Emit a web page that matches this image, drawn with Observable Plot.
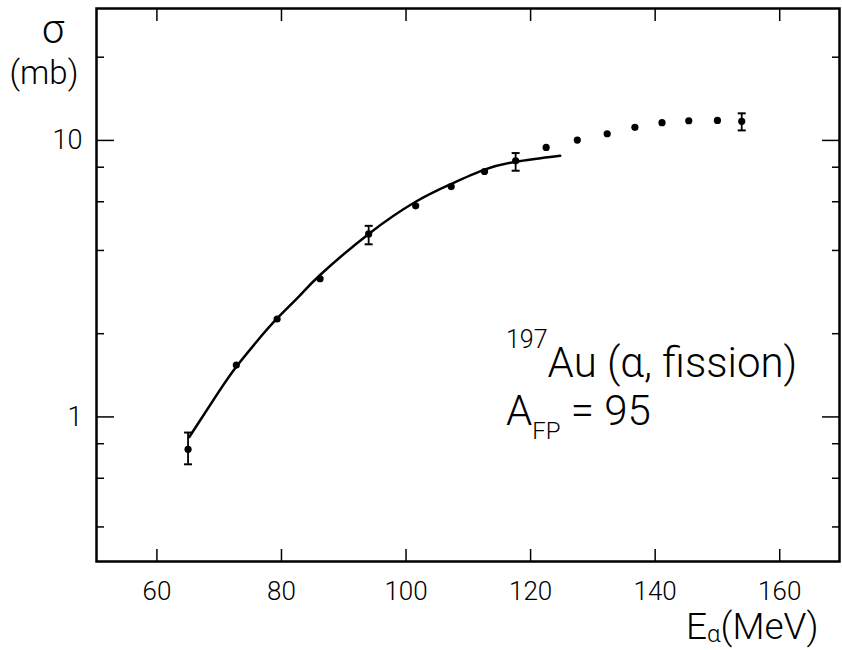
<!DOCTYPE html>
<html><head><meta charset="utf-8">
<script src="https://cdn.jsdelivr.net/npm/d3@7"></script>
<script src="https://cdn.jsdelivr.net/npm/@observablehq/plot@0.6"></script>
<style>body{margin:0;background:#fff} #chart{width:842px;height:650px}</style>
</head><body><div id="chart"></div>
<script>
// Measured points: alpha energy (MeV) and fission cross section (mb)
const energy = [65.0, 72.75, 79.3, 86.2, 94.0, 101.55, 107.25, 112.6, 117.6, 122.5, 127.5, 132.3, 136.75, 141.1, 145.4, 150.0, 153.9];
const sigma  = [0.764, 1.54, 2.26, 3.16, 4.59, 5.80, 6.81, 7.72, 8.44, 9.43, 10.03, 10.57, 11.15, 11.59, 11.78, 11.81, 11.72];
// Error bars
const errEnergy = [65.0, 94.0, 117.6, 153.9];
const errLow    = [0.674, 4.21, 7.77, 10.87];
const errHigh   = [0.878, 4.91, 9.0, 12.53];
// Fitted curve
const curveEnergy = [65.2, 70, 72.75, 76, 79.3, 82.9, 86.2, 94.0, 101.55, 107.25, 112.6, 117.6, 124.75];
const curveSigma  = [0.846, 1.24, 1.52, 1.87, 2.27, 2.74, 3.26, 4.59, 6.0, 6.96, 7.84, 8.37, 8.80];
// Ticks
const xTicks = [60, 80, 100, 120, 140, 160];
const yMajor = [1, 10];
const yMinor = [0.4, 0.6, 0.8, 2, 4, 6, 8, 20];

const points = energy.map((e, i) => ({e, s: sigma[i]}));
const errs = errEnergy.map((e, i) => ({e, lo: errLow[i], hi: errHigh[i]}));
const curve = curveEnergy.map((e, i) => ({e, s: curveSigma[i]}));

const FONT = "Roboto, 'DejaVu Sans', sans-serif";
const cap = {draw(ctx) { ctx.moveTo(-4, 0); ctx.lineTo(4, 0); }};
const blank = () => "";

const plot = Plot.plot({
  width: 842, height: 650,
  marginLeft: 96, marginRight: 3, marginTop: 8, marginBottom: 89,
  x: {domain: [50.3, 169.6]},
  y: {type: "log", domain: [0.3, 30]},
  style: {fontFamily: FONT, background: "white", color: "black"},
  marks: [
    // inward ticks on all four sides
    Plot.axisX(xTicks, {anchor: "bottom", tickSize: 12, dy: -12, tickFormat: blank, label: null, strokeWidth: 1.5}),
    Plot.axisX(xTicks, {anchor: "top", tickSize: 12, dy: 12, tickFormat: blank, label: null, strokeWidth: 1.5}),
    Plot.axisY(yMajor, {anchor: "left", tickSize: 18, dx: 18, tickFormat: blank, label: null, strokeWidth: 1.5}),
    Plot.axisY(yMinor, {anchor: "left", tickSize: 8, dx: 8, tickFormat: blank, label: null, strokeWidth: 1.5}),
    Plot.axisY(yMajor, {anchor: "right", tickSize: 18, dx: -18, tickFormat: blank, label: null, strokeWidth: 1.5}),
    Plot.axisY(yMinor, {anchor: "right", tickSize: 8, dx: -8, tickFormat: blank, label: null, strokeWidth: 1.5}),
    // tick labels
    Plot.axisX(xTicks, {anchor: "bottom", tickSize: 0, tickPadding: 20, fontSize: 26, fontWeight: 300, label: null}),
    Plot.axisY(yMajor, {anchor: "left", tickSize: 0, tickPadding: 14, fontSize: 27, fontWeight: 300, label: null, tickFormat: d3.format("d")}),
    Plot.frame({stroke: "black", strokeWidth: 2.5}),
    // fitted curve
    Plot.line(curve, {x: "e", y: "s", curve: "natural", stroke: "black", strokeWidth: 2.5}),
    // error bars
    Plot.ruleX(errs, {x: "e", y1: "lo", y2: "hi", stroke: "black", strokeWidth: 1.8}),
    Plot.dot(errs, {x: "e", y: "lo", symbol: cap, stroke: "black", strokeWidth: 2, fill: "none"}),
    Plot.dot(errs, {x: "e", y: "hi", symbol: cap, stroke: "black", strokeWidth: 2, fill: "none"}),
    // data points
    Plot.dot(points, {x: "e", y: "s", r: 3.6, fill: "black", stroke: "none"})
  ]
});
document.getElementById("chart").appendChild(plot);

// Annotations
const svg = d3.select(plot);
const g = svg.append("g").attr("font-family", FONT).attr("font-weight", 300)
  .attr("fill", "black").attr("text-anchor", "start");
g.append("text").attr("x", 53).attr("y", 43).attr("text-anchor", "middle").attr("font-size", 40).text("σ");
g.append("text").attr("x", 44).attr("y", 84).attr("text-anchor", "middle").attr("font-size", 33).text("(mb)");

const ex = g.append("text").attr("x", 686).attr("y", 639).attr("font-size", 37);
ex.append("tspan").text("E");
ex.append("tspan").attr("font-size", 24).attr("dy", 3).text("α");
ex.append("tspan").attr("dy", -3).text("(MeV)");

const t1 = g.append("text").attr("x", 506).attr("y", 377).attr("font-size", 42);
t1.append("tspan").attr("font-size", 25).attr("dy", -29).text("197");
t1.append("tspan").attr("dy", 29).text("Au (α, fission)");

const t2 = g.append("text").attr("x", 506).attr("y", 425).attr("font-size", 42);
t2.append("tspan").text("A");
t2.append("tspan").attr("font-size", 24).attr("dy", 14).text("FP");
t2.append("tspan").attr("dy", -14).text(" = 95");
</script>
</body></html>
